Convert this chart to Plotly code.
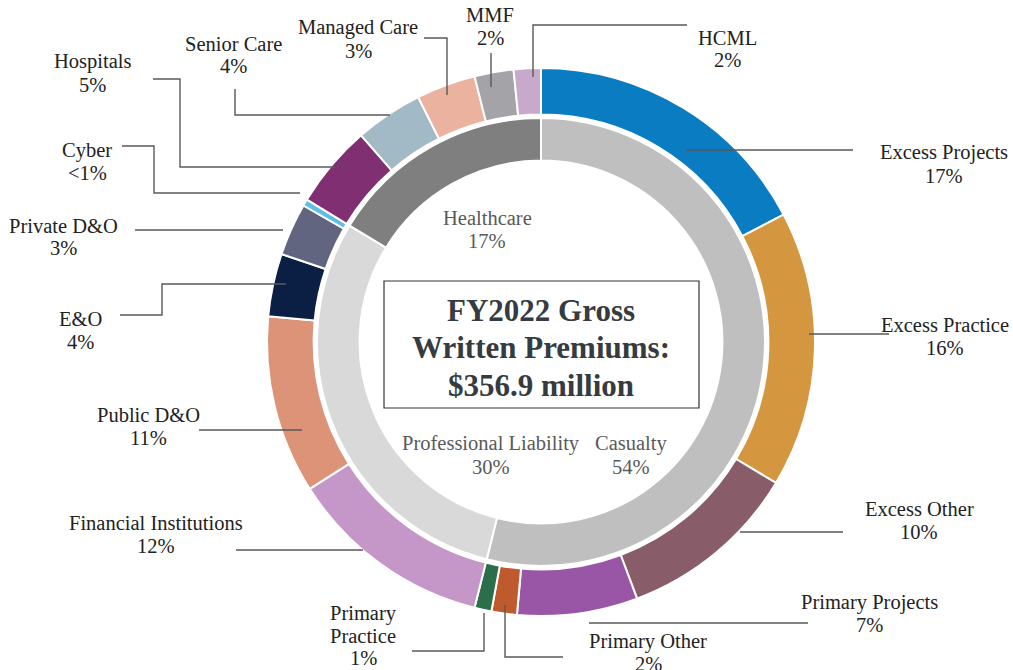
import plotly.graph_objects as go

W, H = 1013, 670

# outer ring, clockwise from 12 o'clock
segments = ['Excess Projects', 'Excess Practice', 'Excess Other', 'Primary Projects',
            'Primary Other', 'Primary Practice', 'Financial Institutions', 'Public D&O',
            'E&O', 'Private D&O', 'Cyber', 'Hospitals', 'Senior Care', 'Managed Care',
            'MMF', 'HCML']
shares = [17.3, 16.3, 10.7, 7.1, 1.5, 1.0, 12.1, 10.5, 3.7, 3.1, 0.4, 4.9, 4.0, 3.5, 2.3, 1.6]
share_text = ['17%', '16%', '10%', '7%', '2%', '1%', '12%', '11%', '4%', '3%', '<1%',
              '5%', '4%', '3%', '2%', '2%']
segment_colors = ['#0A7CC1', '#D4963E', '#885C68', '#9A56A6', '#BF5A2E', '#2A6E4A',
                  '#C597C9', '#DC9378', '#0B1F45', '#626580', '#5BC0E8', '#7F2F72',
                  '#A2B9C6', '#EBB29F', '#A3A3A8', '#C9A9CB']

# inner ring
groups = ['Casualty', 'Professional Liability', 'Healthcare']
group_shares = [53.9, 29.8, 16.3]
group_text = ['54%', '30%', '17%']
group_colors = ['#BFBFBF', '#D9D9D9', '#7F7F7F']

title_lines = ['FY2022 Gross', 'Written Premiums:', '$356.9 million']


def px(x):
    return x / W


def py(y):
    return 1 - y / H


def domain(cx, cy, r):
    return dict(x=[px(cx - r), px(cx + r)], y=[py(cy + r), py(cy - r)])


CX, CY = 541, 342

fig = go.Figure()
fig.add_trace(go.Pie(
    labels=segments, values=shares, sort=False, direction='clockwise', rotation=0,
    hole=0.83, domain=domain(CX, CY, 274), textinfo='none', hoverinfo='label+percent',
    marker=dict(colors=segment_colors, line=dict(color='white', width=2)),
    showlegend=False
))
fig.add_trace(go.Pie(
    labels=groups, values=group_shares, sort=False, direction='clockwise', rotation=0,
    hole=0.81, domain=domain(CX, CY, 224), textinfo='none', hoverinfo='label+percent',
    marker=dict(colors=group_colors, line=dict(color='white', width=2)),
    showlegend=False
))

# label placement (pixel x centre, first line y) and leader-line paths
label_pos = {
    'Excess Projects': (944, 153), 'Excess Practice': (945, 325), 'Excess Other': (919, 509),
    'Primary Projects': (869, 602), 'Primary Other': (648, 641), 'Primary Practice': (363, 613),
    'Financial Institutions': (156, 523), 'Public D&O': (148, 415), 'E&O': (80, 319),
    'Private D&O': (64, 226), 'Cyber': (87, 150), 'Hospitals': (92, 62),
    'Senior Care': (233, 44), 'Managed Care': (358, 28), 'MMF': (490, 15), 'HCML': (727, 38),
}
leaders = {
    'Excess Projects': [(686, 150), (853, 150)],
    'Excess Practice': [(809, 334), (889, 334)],
    'Excess Other': [(740, 532), (843, 532)],
    'Primary Projects': [(589, 623), (808, 623)],
    'Primary Other': [(505, 605), (505, 657), (563, 657)],
    'Primary Practice': [(484, 613), (484, 651), (412, 651)],
    'Financial Institutions': [(363, 550), (236, 550)],
    'Public D&O': [(302, 430), (199, 430)],
    'E&O': [(286, 284), (162, 284), (162, 315), (120, 315)],
    'Private D&O': [(283, 230), (135, 230)],
    'Cyber': [(300, 193), (154, 193), (154, 146), (122, 146)],
    'Hospitals': [(335, 167), (180, 167), (180, 79), (153, 79)],
    'Senior Care': [(390, 115), (235, 115), (235, 89)],
    'Managed Care': [(447, 95), (447, 38), (424, 38)],
    'MMF': [(491, 87), (491, 53)],
    'HCML': [(533, 77), (533, 25), (687, 25)],
}

SERIF = 'Liberation Serif, Times New Roman, serif'
label_font = dict(family=SERIF, size=20.5, color='#222222')
inner_font = dict(family=SERIF, size=20.5, color='#595959')
LINE = 22.5


def add_lines(lines, x, y0, font, step):
    for i, t in enumerate(lines):
        fig.add_annotation(x=px(x), y=py(y0 + i * step), xref='paper', yref='paper', text=t,
                           showarrow=False, font=font, xanchor='center', yanchor='middle')


for name, pct in zip(segments, share_text):
    x, y = label_pos[name]
    lines = ['Primary', 'Practice'] if name == 'Primary Practice' else [name]
    add_lines(lines + [pct], x, y, label_font, LINE)
    d = 'M ' + ' L '.join(f'{px(a):.5f},{py(b):.5f}' for a, b in leaders[name])
    fig.add_shape(type='path', path=d, xref='paper', yref='paper',
                  line=dict(color='#595959', width=1.4))

inner_pos = {'Casualty': (631, 443), 'Professional Liability': (491, 443), 'Healthcare': (487, 218)}
for name, pct in zip(groups, group_text):
    x, y = inner_pos[name]
    add_lines([name, pct], x, y, inner_font, 23.5)

# centre title box
fig.add_shape(type='rect', x0=px(384), x1=px(699), y0=py(408), y1=py(281),
              xref='paper', yref='paper', line=dict(color='#333333', width=1.2),
              fillcolor='white')
add_lines(['<b>' + t + '</b>' for t in title_lines], CX, 310,
          dict(family=SERIF, size=31, color='#353B40'), 37.5)

fig.update_layout(
    width=W, height=H,
    margin=dict(l=0, r=0, t=0, b=0),
    paper_bgcolor='white', plot_bgcolor='white',
)

fig.write_html("out.html", config={'displayModeBar': False},
               post_script="document.body.style.margin='0';")
